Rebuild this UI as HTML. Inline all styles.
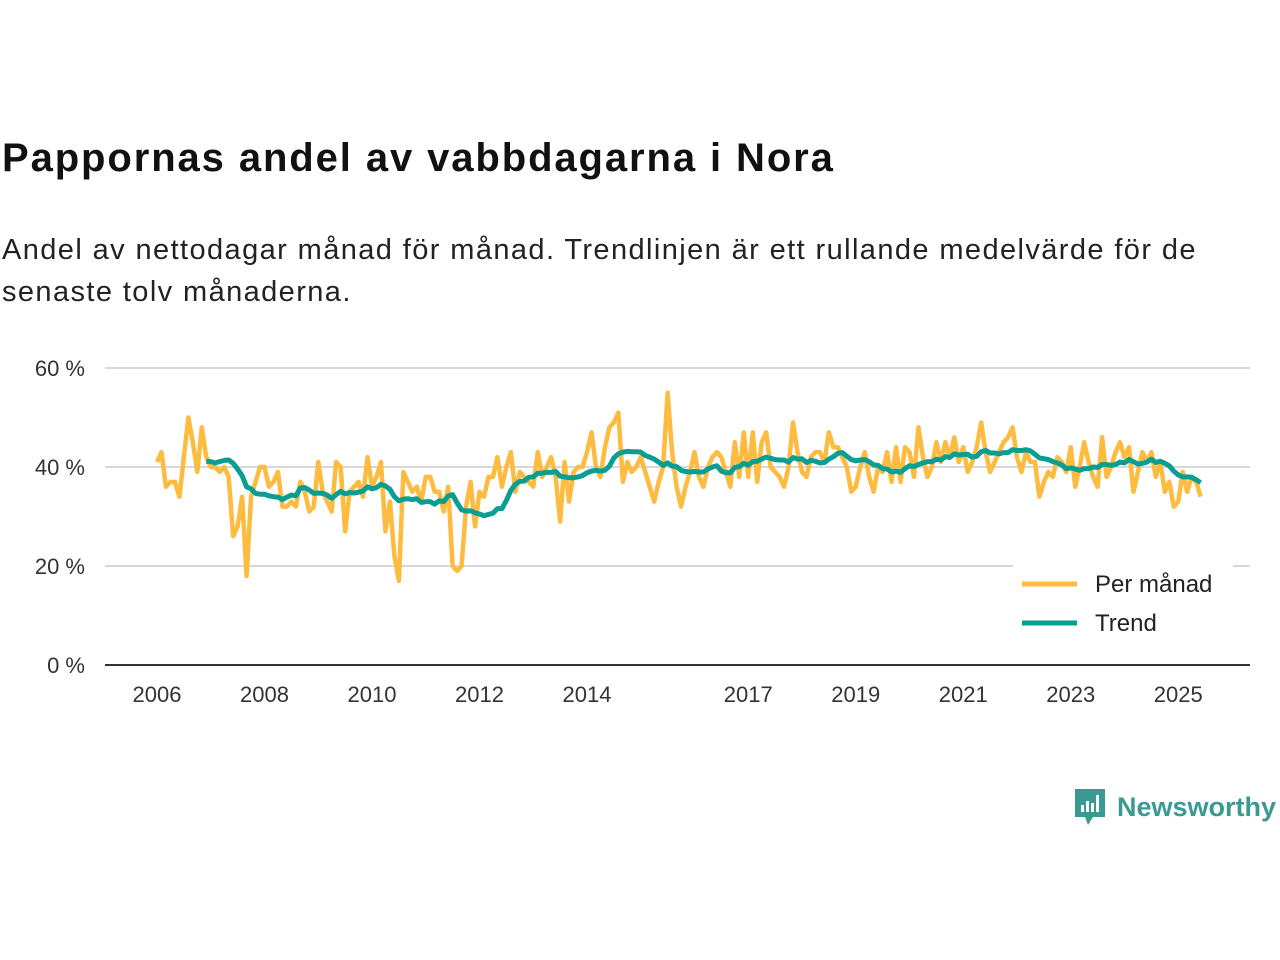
<!DOCTYPE html>
<html><head><meta charset="utf-8"><style>
body{margin:0;width:1280px;height:960px;background:#fff;font-family:"Liberation Sans",sans-serif;position:relative;overflow:hidden}
#title{position:absolute;left:2px;top:136px;font-size:40px;letter-spacing:1.9px;font-weight:bold;color:#111;margin:0}
#sub{position:absolute;left:2px;top:229px;font-size:29px;letter-spacing:1.4px;line-height:42px;color:#222;width:1240px}
svg{position:absolute;left:0;top:0}
</style></head><body>
<h1 id="title">Pappornas andel av vabbdagarna i Nora</h1>
<div id="sub">Andel av nettodagar månad för månad. Trendlinjen är ett rullande medelvärde för de<br>senaste tolv månaderna.</div>
<svg id="chart" width="1280" height="960"></svg>
<div style="position:absolute;left:1073px;top:787px;display:flex;align-items:center">
<svg width="34" height="40" style="position:static"><path d="M2 2h30v28h-12l-5 8-3-8h-10z" fill="#3a9a92"/><rect x="8" y="18" width="3" height="7" fill="#fff"/><rect x="13" y="14" width="3" height="11" fill="#fff"/><rect x="18" y="16" width="3" height="9" fill="#fff"/><rect x="23" y="8" width="3" height="17" fill="#fff"/></svg>
<span style="font-size:27px;font-weight:bold;color:#3a9a92;margin-left:10px">Newsworthy</span></div>
<script>
const monthly=[41,43,36,37,37,34,42,50,45,39,48,42,
40,40,39,40,38,26,28,34,18,34,37,40,
40,36,37,39,32,32,33,32,37,35,31,32,
41,35,33,31,41,40,27,35,36,37,34,42,
36,38,41,27,33,22,17,39,37,35,36,33,
38,38,35,35,31,36,20,19,20,32,37,28,
35,34,38,38,42,36,40,43,35,39,38,37,
36,43,38,40,42,38,29,41,33,39,40,40,
43,47,40,38,44,48,49,51,37,41,39,40,
42,39,36,33,37,40,55,43,36,32,36,39,
43,38,36,40,42,43,42,39,36,45,38,47,
38,47,37,45,47,40,39,38,36,40,49,43,
39,38,42,43,43,41,47,44,44,42,40,35,
36,40,43,38,35,40,39,43,37,44,37,44,
43,38,48,42,38,40,45,41,45,42,46,41,
44,39,41,44,49,43,39,41,43,45,46,48,
42,39,43,41,41,34,37,39,38,42,41,39,
44,36,40,45,41,38,36,46,38,40,43,45,
42,44,35,39,43,41,43,38,41,35,37,32,
33,39,35,38,37,34];
const startYear=2006;
const yTicks=[0,20,40,60];
const xTickYears=[2006,2008,2010,2012,2014,2017,2019,2021,2023,2025];
const NS="http://www.w3.org/2000/svg";
const svg=document.getElementById('chart');
const x=m=>157+(m/12)*53.75;
const y=v=>665-v*4.95;
function el(t,a,p){const e=document.createElementNS(NS,t);for(const k in a)e.setAttribute(k,a[k]);(p||svg).appendChild(e);return e;}
yTicks.forEach(v=>{
 if(v>0){const g=el('line',{x1:105,x2:1250,y1:y(v),y2:y(v),stroke:'#d8d8d8','stroke-width':2});
 
 }
 const t=el('text',{x:85,y:y(v)+8,'text-anchor':'end','font-size':22,fill:'#333','font-family':'Liberation Sans'});
 t.textContent=v+' %';
 
 
});
const ax=el('line',{x1:105,x2:1250,y1:665,y2:665,stroke:'#333','stroke-width':2});


xTickYears.forEach(yr=>{
 const xx=x((yr-startYear)*12);
 const t=el('text',{x:xx,y:702,'text-anchor':'middle','font-size':22,fill:'#333','font-family':'Liberation Sans'});
 t.textContent=yr;
 
 
});
const pm=el('polyline',{points:monthly.map((v,i)=>x(i)+','+y(v)).join(' '),fill:'none',stroke:'#fdbb3f','stroke-width':4.5,'stroke-linejoin':'round'});


const tp=[];
for(let i=11;i<monthly.length;i++){let s=0;for(let j=i-11;j<=i;j++)s+=monthly[j];tp.push(x(i)+','+y(s/12));}
const tr=el('polyline',{points:tp.join(' '),fill:'none',stroke:'#0a9e92','stroke-width':5,'stroke-linejoin':'round'});


const lb=el('rect',{x:1013,y:560,width:220,height:85,fill:'#fff'});


[['Per månad','#fdbb3f',584],['Trend','#0a9e92',623]].forEach(([n,c,yy])=>{
 el('line',{x1:1022,x2:1077,y1:yy,y2:yy,stroke:c,'stroke-width':5});
 const t=el('text',{x:1095,y:yy+8,'font-size':24,fill:'#222','font-family':'Liberation Sans'});
 t.textContent=n;
 
 
});
</script>
</body></html>
